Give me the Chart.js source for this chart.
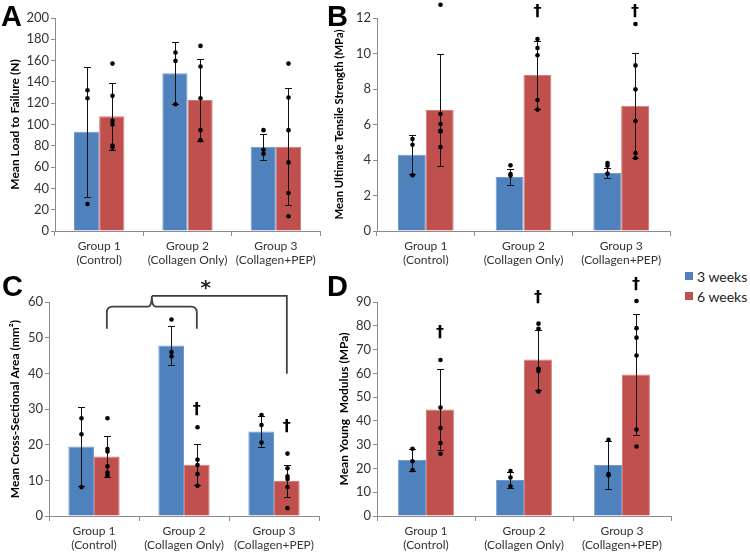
<!DOCTYPE html>
<html>
<head>
<meta charset="utf-8">
<script src="https://cdn.jsdelivr.net/npm/chart.js@4.4.1/dist/chart.umd.min.js"></script>
<style>
body { margin: 0; background: #fff; }
#wrap { position: relative; width: 750px; height: 554px; overflow: hidden; font-family: Lato, sans-serif; }
canvas { position: absolute; }
.letter { position: absolute; font: bold 29px "Liberation Sans", Arial, sans-serif; line-height: 29px; color: #000; }
.legend { position: absolute; left: 685px; height: 20px; display: flex; align-items: center; font-size: 14px; color: #222; }
.legend span { display: inline-block; width: 8px; height: 8px; margin-right: 4px; }
</style>
</head>
<body>
<div id="wrap">
  <canvas id="chartA" width="330" height="277" style="left:0;top:0"></canvas>
  <canvas id="chartB" width="345" height="277" style="left:330px;top:0"></canvas>
  <canvas id="chartC" width="330" height="277" style="left:0;top:277px"></canvas>
  <canvas id="chartD" width="345" height="277" style="left:330px;top:277px"></canvas>
  <div class="letter" style="left:1px;top:2px">A</div>
  <div class="letter" style="left:327px;top:2px">B</div>
  <div class="letter" style="left:2px;top:272px">C</div>
  <div class="letter" style="left:327px;top:272px">D</div>
  <div class="legend" style="top:266px"><span style="background:#4F81BD"></span>3 weeks</div>
  <div class="legend" style="top:286px"><span style="background:#C0504D"></span>6 weeks</div>
</div>
<script>
// categories and series
const categories = [['Group 1', '(Control)'], ['Group 2', '(Collagen Only)'], ['Group 3', '(Collagen+PEP)']];
const seriesNames = ['3 weeks', '6 weeks'];

// A - load to failure (N)
const loadMean3 = [93.1, 148.1, 79.0];
const loadMean6 = [107.8, 123.1, 79.0];
const loadSd3 = [61, 29, 12.2];
const loadSd6 = [31.3, 38.5, 55];
const loadPts3 = [[132.2, 124.7, 25.3], [167.5, 159.7, 119], [94.7, 76.3, 72.5]];
const loadPts6 = [[157.2, 126.9, 103.4, 100, 80.3, 78.4], [173.8, 154.4, 124.7, 94.7, 85.3], [157.2, 125.3, 94.7, 64.4, 35.6, 13.8]];
const loadDaggers = [null, null, null];

// B - ultimate tensile strength (MPa)
const utsMean3 = [4.3, 3.04, 3.27];
const utsMean6 = [6.82, 8.79, 7.06];
const utsSd3 = [1.1, 0.47, 0.28];
const utsSd6 = [3.13, 1.9, 2.97];
const utsPts3 = [[5.18, 4.86, 3.14], [3.7, 3.21, 3.12], [3.83, 3.68, 3.23]];
const utsPts6 = [[12.75, 6.59, 6.03, 5.65, 5.61, 4.73], [10.82, 10.31, 9.9, 7.38, 6.84], [11.66, 9.33, 7.98, 6.2, 4.39, 4.11]];
const utsDaggers = [null, 12.36, 12.36];

// C - cross-sectional area (mm2)
const csaMean3 = [19.5, 47.8, 23.7];
const csaMean6 = [16.7, 14.4, 9.8];
const csaSd3 = [11.1, 5.55, 4.35];
const csaSd6 = [5.7, 5.75, 4.45];
const csaPts3 = [[27.4, 22.9, 8.1], [55.1, 46, 44.8], [28.3, 25.5, 20.6]];
const csaPts6 = [[27.4, 18.8, 18.1, 13.9, 12.2, 11.4], [24.9, 15.8, 14.3, 11.8, 8.5], [17.5, 13.4, 11.1, 10.4, 8.1, 2.2]];
const csaDaggers = [null, 29.8, 25.1];
// significance bracket levels (in mm2 units)
const bracketLow = 52.5, bracketMid = 58.7, bracketTop = 61.7, bracketRight = 39.9, starLevel = 64.8;

// D - Young modulus (MPa)
const ymMean3 = [23.5, 15.1, 21.5];
const ymMean6 = [44.8, 65.8, 59.5];
const ymSd3 = [4.55, 3.25, 10.2];
const ymSd6 = [16.9, 12.6, 25.3];
const ymPts3 = [[28.3, 23, 19.3], [18.9, 16.2, 12.5], [32, 17.6, 17.1]];
const ymPts6 = [[65.6, 45.6, 37, 30.7, 26.2], [80.9, 78.7, 61.9, 61, 52.4], [90.4, 79, 75, 67.5, 36.4, 29.2]];
const ymDaggers = [76.9, 91.6, 97.1];

const blue = '#4F81BD', red = '#C0504D';
const axisGray = '#8c8c8c';

const errorPlugin = {
    id: 'errorDots',
    afterDatasetsDraw(chart, args, opts) {
        const ctx = chart.ctx;
        const y = chart.scales.y;
        ctx.save();
        ctx.strokeStyle = '#111';
        ctx.fillStyle = '#000';
        ctx.lineWidth = 1;
        chart.data.datasets.forEach((ds, i) => {
            const meta = chart.getDatasetMeta(i);
            meta.data.forEach((bar, j) => {
                const x = Math.round(bar.x) + 0.5;
                const hi = Math.round(y.getPixelForValue(ds.data[j] + opts.sd[i][j])) + 0.5;
                const lo = Math.round(y.getPixelForValue(ds.data[j] - opts.sd[i][j])) + 0.5;
                ctx.beginPath();
                ctx.moveTo(x, hi); ctx.lineTo(x, lo);
                ctx.moveTo(x - 3.5, hi); ctx.lineTo(x + 3.5, hi);
                ctx.moveTo(x - 3.5, lo); ctx.lineTo(x + 3.5, lo);
                ctx.stroke();
                opts.pts[i][j].forEach(v => {
                    ctx.beginPath();
                    ctx.arc(x, y.getPixelForValue(v), 2.3, 0, Math.PI * 2);
                    ctx.fill();
                });
            });
        });
        // daggers over the 6 weeks bars
        const meta6 = chart.getDatasetMeta(1);
        ctx.font = 'bold 16px "DejaVu Sans"';
        ctx.textAlign = 'center';
        ctx.textBaseline = 'middle';
        opts.daggers.forEach((v, j) => {
            if (v === null) return;
            ctx.fillText('\u2020', meta6.data[j].x, y.getPixelForValue(v));
        });
        // bracket with asterisk (panel C)
        if (opts.bracket) {
            const x1 = meta6.data[0].x, x2 = meta6.data[1].x, x3 = meta6.data[2].x;
            const xm = (x1 + x2) / 2;
            const yl = y.getPixelForValue(bracketLow), ym = y.getPixelForValue(bracketMid);
            const yt = y.getPixelForValue(bracketTop), yr = y.getPixelForValue(bracketRight);
            const r = 6;
            ctx.strokeStyle = '#404040';
            ctx.lineWidth = 1.8;
            ctx.beginPath();
            ctx.moveTo(x1, yl);
            ctx.lineTo(x1, ym + r);
            ctx.quadraticCurveTo(x1, ym, x1 + r, ym);
            ctx.lineTo(xm - 4, ym);
            ctx.quadraticCurveTo(xm, ym, xm, yt);
            ctx.quadraticCurveTo(xm, ym, xm + 4, ym);
            ctx.lineTo(x2 - r, ym);
            ctx.quadraticCurveTo(x2, ym, x2, ym + r);
            ctx.lineTo(x2, yl);
            ctx.moveTo(xm, yt);
            ctx.lineTo(x3, yt);
            ctx.lineTo(x3, yr);
            ctx.stroke();
            ctx.font = 'bold 20px "DejaVu Sans"';
            ctx.fillStyle = '#222';
            ctx.fillText('*', x2 + 9, y.getPixelForValue(starLevel) + 4);
        }
        ctx.restore();
    }
};

function buildChart(id, o) {
    return new Chart(document.getElementById(id), {
        type: 'bar',
        data: {
            labels: categories,
            datasets: [
                { label: seriesNames[0], data: o.mean3, backgroundColor: blue, borderColor: '#6f9bd0', borderWidth: 1 },
                { label: seriesNames[1], data: o.mean6, backgroundColor: red, borderColor: '#d97a77', borderWidth: 1 }
            ]
        },
        options: {
            responsive: false,
            animation: false,
            layout: { padding: { top: o.top, right: o.right, left: 0, bottom: 0 } },
            datasets: { bar: { categoryPercentage: 0.57, barPercentage: 1 } },
            plugins: {
                legend: { display: false },
                tooltip: { enabled: false },
                errorDots: { sd: [o.sd3, o.sd6], pts: [o.pts3, o.pts6], daggers: o.daggers, bracket: o.bracket }
            },
            scales: {
                x: {
                    grid: { drawOnChartArea: false, offset: true, tickLength: 5, color: axisGray },
                    border: { color: axisGray },
                    ticks: { font: { family: 'Lato', size: 12 }, color: '#333', padding: 3, maxRotation: 0, autoSkip: false },
                    afterFit: s => { s.height = o.xH; }
                },
                y: {
                    min: 0, max: o.max,
                    ticks: { stepSize: o.step, font: { family: 'Lato', size: 13 }, color: '#333', padding: 2 },
                    grid: { drawOnChartArea: false, tickLength: 4, color: axisGray },
                    border: { color: axisGray },
                    title: { display: true, text: o.title, color: '#000', font: { family: 'Lato', size: o.titleSize, weight: 'bold' }, padding: { top: o.titlePad, bottom: 0 } },
                    afterFit: s => { s.width = o.yW; }
                }
            }
        },
        plugins: [errorPlugin]
    });
}

buildChart('chartA', { mean3: loadMean3, mean6: loadMean6, sd3: loadSd3, sd6: loadSd6, pts3: loadPts3, pts6: loadPts6, daggers: loadDaggers,
    max: 200, step: 20, title: 'Mean Load to Failure (N)', titleSize: 12, top: 18, right: 10, xH: 46, yW: 55, titlePad: 8 });
buildChart('chartB', { mean3: utsMean3, mean6: utsMean6, sd3: utsSd3, sd6: utsSd6, pts3: utsPts3, pts6: utsPts6, daggers: utsDaggers,
    max: 12, step: 2, title: 'Mean Ultimate Tensile Strength (MPa)', titleSize: 11.3, top: 18, right: 5, xH: 46, yW: 47, titlePad: 3 });
buildChart('chartC', { mean3: csaMean3, mean6: csaMean6, sd3: csaSd3, sd6: csaSd6, pts3: csaPts3, pts6: csaPts6, daggers: csaDaggers, bracket: true,
    max: 60, step: 10, title: 'Mean Cross-Sectional Area (mm\u00B2)', titleSize: 12, top: 25, right: 11, xH: 38, yW: 49, titlePad: 8 });
buildChart('chartD', { mean3: ymMean3, mean6: ymMean6, sd3: ymSd3, sd6: ymSd6, pts3: ymPts3, pts6: ymPts6, daggers: ymDaggers,
    max: 90, step: 10, title: 'Mean Young  Modulus (MPa)', titleSize: 12, top: 25, right: 4, xH: 38, yW: 47, titlePad: 7 });
</script>
</body>
</html>
